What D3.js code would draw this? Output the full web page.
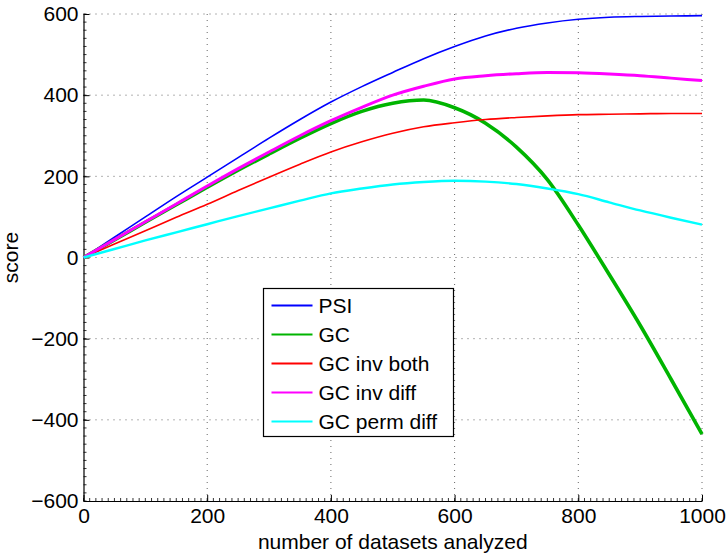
<!DOCTYPE html>
<html>
<head>
<meta charset="utf-8">
<script src="https://cdn.jsdelivr.net/npm/d3@7"></script>
<style>
  body { margin: 0; background: #fff; }
  svg { display: block; font-family: "Liberation Sans", Arial, sans-serif; }
</style>
</head>
<body>
<svg></svg>
<script>
// Data
var xs    = [0, 50, 100, 150, 200, 250, 300, 350, 400, 450, 500, 550, 600, 650, 700, 750, 800, 850, 900, 950, 1000];
var psi   = [0, 50, 100, 150, 198, 246, 294, 340, 383, 421, 456, 490, 520, 546, 565, 578, 587, 592, 594, 595, 596];
var gc    = [0, 43, 87, 130, 173, 215, 255, 294, 330, 360, 380, 388, 369, 331, 272, 192, 80, -42, -167, -300, -435];
var gcInvBoth = [0, 33, 66, 99, 131, 165, 198, 230, 260, 285, 306, 322, 332, 340, 345, 349, 352, 353, 354, 355, 355];
var gcInvDiff = [0, 44, 88, 132, 176, 219, 260, 300, 337, 370, 400, 422, 440, 448, 453, 456, 455, 452, 448, 442, 436];
var gcPermDiff = [0, 21, 42, 62, 82, 102, 121, 140, 158, 170, 180, 186, 189, 187, 181, 170, 156, 136, 116, 98, 81];

var seriesNames = ["PSI", "GC", "GC inv both", "GC inv diff", "GC perm diff"];
var seriesColors = ["#0000ff", "#00b400", "#ff0000", "#ff00ff", "#00ffff"];
var seriesWidths = [1.6, 3.6, 1.6, 3, 2.4];
var xTicks = [0, 200, 400, 600, 800, 1000];
var yTicks = [-600, -400, -200, 0, 200, 400, 600];

var margin = {top: 14, right: 26, bottom: 52, left: 83.5},
    width = 728 - margin.left - margin.right,
    height = 553 - margin.top - margin.bottom;

var fontSize = "21px";

var svg = d3.select("svg")
    .attr("width", 728)
    .attr("height", 553)
    .append("g")
    .attr("transform", `translate(${margin.left},${margin.top})`);

var x = d3.scaleLinear().domain([0, 1000]).range([0, width]);
var y = d3.scaleLinear().domain([-600, 600]).range([height, 0]);

// Dotted grid
xTicks.filter(d => d > 0).forEach(v => {
    svg.append("line")
        .attr("x1", x(v)).attr("x2", x(v))
        .attr("y1", 0).attr("y2", height)
        .attr("stroke", "#666")
        .attr("stroke-dasharray", "1,5");
});
yTicks.filter(d => d > -600).forEach(v => {
    svg.append("line")
        .attr("x1", 0).attr("x2", width)
        .attr("y1", y(v)).attr("y2", y(v))
        .attr("stroke", "#666")
        .attr("stroke-dasharray", "1,5");
});

// Minor ticks (inward)
d3.range(0, 1001, 10).forEach(v => {
    svg.append("line")
        .attr("x1", x(v)).attr("x2", x(v))
        .attr("y1", height).attr("y2", height - 3)
        .attr("stroke", "#000").attr("stroke-width", 0.8);
});
d3.range(-600, 601, 20).forEach(v => {
    svg.append("line")
        .attr("x1", 0).attr("x2", 3)
        .attr("y1", y(v)).attr("y2", y(v))
        .attr("stroke", "#000").attr("stroke-width", 0.8);
});

// Axes
var xAxis = svg.append("g")
    .attr("transform", `translate(0,${height})`)
    .call(d3.axisBottom(x).tickValues(xTicks).tickFormat(d3.format("d"))
        .tickSizeInner(-6).tickSizeOuter(0).tickPadding(12));
var yAxis = svg.append("g")
    .call(d3.axisLeft(y).tickValues(yTicks).tickFormat(d3.format("d"))
        .tickSizeInner(-6).tickSizeOuter(0).tickPadding(12));

[xAxis, yAxis].forEach(a => {
    a.select(".domain").attr("stroke", "#000").attr("stroke-width", 1.2);
    a.selectAll("text")
        .attr("font-size", fontSize)
        .attr("font-family", "Liberation Sans, Arial, sans-serif")
        .attr("fill", "#000");
});
yAxis.selectAll("text").attr("x", -5);
xAxis.selectAll("text").attr("y", 7.5);

// Lines
var allSeries = [psi, gc, gcInvBoth, gcInvDiff, gcPermDiff];
var line = d3.line()
    .x((d, i) => x(xs[i]))
    .y(d => y(d))
    .curve(d3.curveMonotoneX);

allSeries.forEach((s, i) => {
    svg.append("path")
        .datum(s)
        .attr("fill", "none")
        .attr("stroke", seriesColors[i])
        .attr("stroke-width", seriesWidths[i])
        .attr("d", line);
});

// Axis labels
svg.append("text")
    .attr("x", width / 2)
    .attr("y", height + 47.5)
    .attr("text-anchor", "middle")
    .style("font-size", fontSize)
    .text("number of datasets analyzed");

svg.append("text")
    .attr("transform", `translate(${18 - margin.left},${height / 2}) rotate(-90)`)
    .attr("text-anchor", "middle")
    .style("font-size", fontSize)
    .text("score");

// Legend
var legend = svg.append("g")
    .attr("transform", `translate(${263.5 - margin.left},${288.5 - margin.top})`);

legend.append("rect")
    .attr("width", 190)
    .attr("height", 148)
    .attr("fill", "#fff")
    .attr("stroke", "#000")
    .attr("stroke-width", 1.2);

seriesNames.forEach((name, i) => {
    var ly = 17 + i * 29;
    legend.append("line")
        .attr("x1", 8).attr("x2", 49)
        .attr("y1", ly).attr("y2", ly)
        .attr("stroke", seriesColors[i])
        .attr("stroke-width", 1.8);
    legend.append("text")
        .attr("x", 55)
        .attr("y", ly + 7.5)
        .style("font-size", fontSize)
        .text(name);
});
</script>
</body>
</html>
